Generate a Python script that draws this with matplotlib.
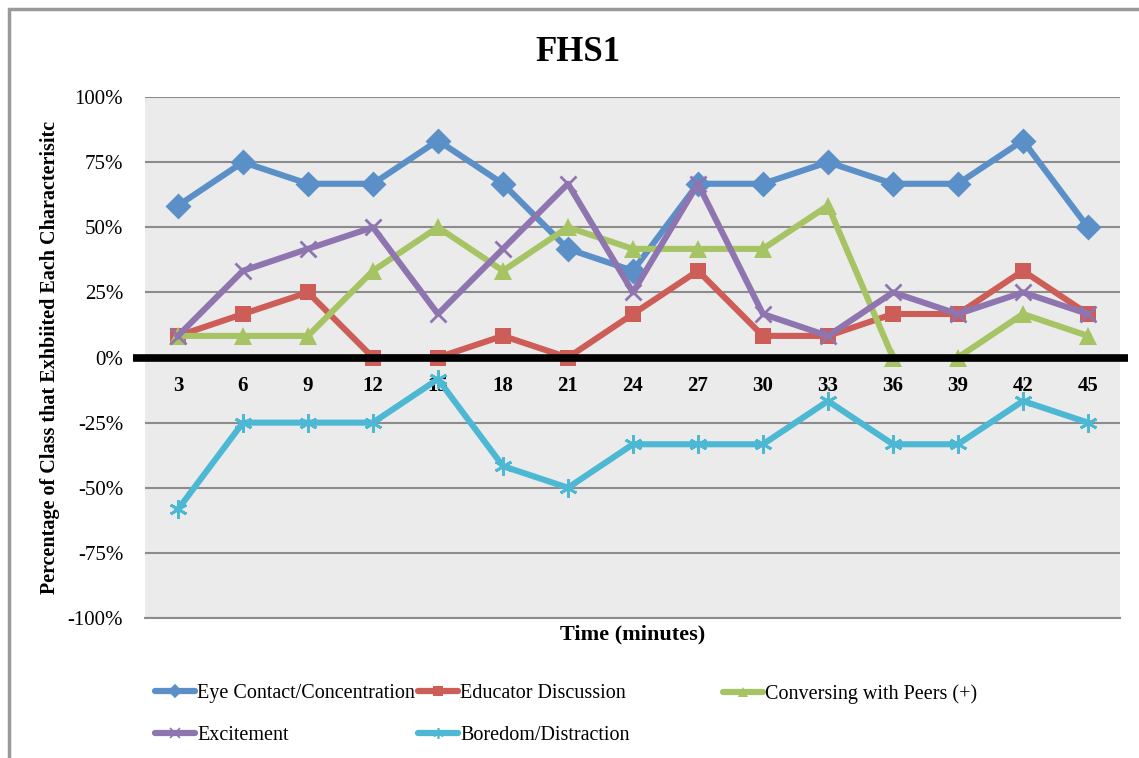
import matplotlib
matplotlib.use("Agg")
import matplotlib.pyplot as plt
import matplotlib.patches as patches
from matplotlib.lines import Line2D
from matplotlib.ticker import FuncFormatter

# minutes into the session
minutes = [3, 6, 9, 12, 15, 18, 21, 24, 27, 30, 33, 36, 39, 42, 45]

# percent of class showing each characteristic
eye_contact = [58.3, 75, 66.7, 66.7, 83.3, 66.7, 41.7, 33.3, 66.7, 66.7, 75, 66.7, 66.7, 83.3, 50]
educator = [8.3, 16.7, 25, 0, 0, 8.3, 0, 16.7, 33.3, 8.3, 8.3, 16.7, 16.7, 33.3, 16.7]
conversing = [8.3, 8.3, 8.3, 33.3, 50, 33.3, 50, 41.7, 41.7, 41.7, 58.3, 0, 0, 16.7, 8.3]
excitement = [8.3, 33.3, 41.7, 50, 16.7, 41.7, 66.7, 25, 66.7, 16.7, 8.3, 25, 16.7, 25, 16.7]
boredom = [-58.3, -25, -25, -25, -8.3, -41.7, -50, -33.3, -33.3, -33.3, -16.7, -33.3, -33.3, -16.7, -25]

names = ["Eye Contact/Concentration", "Educator Discussion", "Conversing with Peers (+)",
         "Excitement", "Boredom/Distraction"]

plt.rcParams["font.family"] = ["Liberation Serif", "DejaVu Serif"]

fig = plt.figure(figsize=(11.39, 7.58), dpi=100)
ax = fig.add_axes([0.1277, 0.1847, 0.8560, 0.6873])

# outer chart border (cut off at right/bottom like the screenshot)
fig.patches.append(patches.Rectangle((9 / 1139, -0.05), 1.2, 1 - 9 / 758 + 0.05,
                                     transform=fig.transFigure, fill=False,
                                     edgecolor="#9a9a9a", linewidth=2.5))

ax.set_facecolor("#ebebeb")
x = list(range(len(minutes)))

styles = [
    (eye_contact, "#5a8fc8", "D", 11, 2),
    (educator, "#cd5d57", "s", 12, 0),
    (conversing, "#a7c465", "^", 13, 0),
    (excitement, "#8f75b0", "x", 12, 2),
    (boredom, "#4db8d3", (6, 2, 0), 13, 2),
]
handles = []
for (vals, col, mk, ms, mew), name in zip(styles, names):
    ax.plot(x, vals, color=col, lw=4.4, marker=mk, markersize=ms,
            markeredgewidth=mew, markeredgecolor=col, zorder=3, clip_on=False)
    handles.append(Line2D([], [], color=col, lw=4.5, marker=mk, markersize=ms * 0.6,
                          markeredgewidth=mew * 0.6, markeredgecolor=col,
                          solid_capstyle="round", label=name))

ax.set_xlim(-0.5, len(minutes) - 0.5)
ax.set_ylim(-100, 100)
ax.set_yticks(range(-100, 101, 25))
ax.yaxis.set_major_formatter(FuncFormatter(lambda v, p: "{:.0f}%".format(v)))
ax.grid(axis="y", color="#8c8c8c", linewidth=1.5)
ax.set_axisbelow(True)

for s in ["left", "right", "top"]:
    ax.spines[s].set_visible(False)
ax.spines["bottom"].set_position(("data", 0))
ax.spines["bottom"].set_color("#aaaaaa")
ax.spines["bottom"].set_linewidth(2)
ax.set_xticks(x)
ax.set_xticklabels([str(m) for m in minutes], fontweight="bold", fontsize=15)
ax.tick_params(axis="x", length=0, pad=13)
ax.tick_params(axis="y", length=0, pad=16, labelsize=15)

# thick black zero line, a bit wider than the plot area
ax.plot([-0.013, 1.008], [0, 0], transform=ax.get_yaxis_transform(), color="black",
        lw=5.5, zorder=4, clip_on=False, solid_capstyle="butt")

# bottom edge of plot area
ax.plot([0, 1], [0, 0], transform=ax.transAxes, color="#8c8c8c", lw=1.5, clip_on=False)

ax.text(0.5, -0.031, "Time (minutes)", transform=ax.transAxes, ha="center", va="center",
        fontsize=16, fontweight="bold")
fig.text(0.044, 0.528, "Percentage of Class that Exhbiited Each Characterisitc",
         rotation=90, ha="center", va="center", fontsize=14.5, fontweight="bold")
fig.text(0.507, 0.931, "FHS1", ha="center", va="center", fontsize=25, fontweight="bold")

# legend laid out in three columns like the original
columns = [([0, 3], 155), ([1, 4], 418), ([2], 723)]
for idx, xpx in columns:
    fig.legend([handles[i] for i in idx], [names[i] for i in idx],
               loc="upper left", bbox_to_anchor=(xpx / 1139, 1 - 684 / 758),
               frameon=False, fontsize=14.5, handlelength=2.0, handletextpad=0.1,
               labelspacing=1.15, borderpad=0, borderaxespad=0)

fig.savefig("out.png", dpi=100)
